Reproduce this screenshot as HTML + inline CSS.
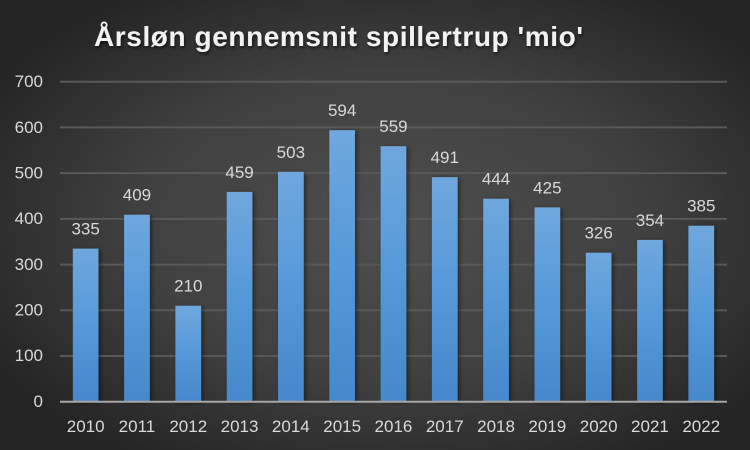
<!DOCTYPE html>
<html><head><meta charset="utf-8"><style>
html,body{margin:0;padding:0;background:#2a2a2a;}
svg{display:block;}
</style></head><body>
<svg width="750" height="450" viewBox="0 0 750 450" xmlns="http://www.w3.org/2000/svg">
<defs>
<radialGradient id="bg" cx="52%" cy="50%" r="62%">
<stop offset="0" stop-color="#4e4e4e"/>
<stop offset="0.55" stop-color="#404040"/>
<stop offset="1" stop-color="#242424"/>
</radialGradient>
<linearGradient id="bar" x1="0" y1="0" x2="0" y2="1">
<stop offset="0" stop-color="#6fa7dd"/>
<stop offset="0.5" stop-color="#5599da"/>
<stop offset="1" stop-color="#4588cb"/>
</linearGradient>
<filter id="sh" x="-30%" y="-10%" width="160%" height="120%">
<feGaussianBlur in="SourceAlpha" stdDeviation="2.5"/>
<feOffset dx="2" dy="1" result="b"/>
<feComponentTransfer><feFuncA type="linear" slope="0.45"/></feComponentTransfer>
<feMerge><feMergeNode/><feMergeNode in="SourceGraphic"/></feMerge>
</filter>
<filter id="tsh" x="-5%" y="-20%" width="110%" height="150%">
<feGaussianBlur in="SourceAlpha" stdDeviation="1.5"/>
<feOffset dx="1" dy="2"/>
<feComponentTransfer><feFuncA type="linear" slope="0.6"/></feComponentTransfer>
<feMerge><feMergeNode/><feMergeNode in="SourceGraphic"/></feMerge>
</filter>
</defs>
<rect width="750" height="450" fill="url(#bg)"/>
<text x="338.5" y="46" text-anchor="middle" textLength="489" lengthAdjust="spacing" font-family="Liberation Sans, sans-serif" font-weight="bold" font-size="28" fill="#f2f2f2" filter="url(#tsh)">Årsløn gennemsnit spillertrup 'mio'</text>
<g stroke="#585858" stroke-width="2">
<line x1="60" x2="727" y1="356" y2="356"/>
<line x1="60" x2="727" y1="310.3" y2="310.3"/>
<line x1="60" x2="727" y1="264.6" y2="264.6"/>
<line x1="60" x2="727" y1="218.9" y2="218.9"/>
<line x1="60" x2="727" y1="173.1" y2="173.1"/>
<line x1="60" x2="727" y1="127.4" y2="127.4"/>
<line x1="60" x2="727" y1="81.7" y2="81.7"/>
</g>
<g font-family="Liberation Sans, sans-serif" font-size="17" fill="#d9d9d9" text-anchor="end">
<text x="43" y="407">0</text>
<text x="43" y="361">100</text>
<text x="43" y="315.5">200</text>
<text x="43" y="270">300</text>
<text x="43" y="224">400</text>
<text x="43" y="178.5">500</text>
<text x="43" y="133">600</text>
<text x="43" y="87">700</text>
</g>
<g fill="url(#bar)" filter="url(#sh)">
<rect x="72.8" y="248.6" width="25.7" height="153.1"/>
<rect x="124.1" y="214.7" width="25.7" height="187"/>
<rect x="175.4" y="305.7" width="25.7" height="96"/>
<rect x="226.7" y="191.9" width="25.7" height="209.8"/>
<rect x="278" y="171.8" width="25.7" height="229.9"/>
<rect x="329.3" y="130.2" width="25.7" height="271.5"/>
<rect x="380.6" y="146.2" width="25.7" height="255.5"/>
<rect x="431.9" y="177.2" width="25.7" height="224.5"/>
<rect x="483.2" y="198.7" width="25.7" height="203"/>
<rect x="534.5" y="207.4" width="25.7" height="194.3"/>
<rect x="585.8" y="252.7" width="25.7" height="149"/>
<rect x="637.1" y="239.9" width="25.7" height="161.8"/>
<rect x="688.4" y="225.7" width="25.7" height="176"/>
</g>
<line x1="60" x2="727" y1="401.7" y2="401.7" stroke="#a6a6a6" stroke-width="2"/>
<g font-family="Liberation Sans, sans-serif" font-size="17" fill="#d9d9d9" text-anchor="middle">
<text x="85.65" y="234.6">335</text>
<text x="136.95" y="200.7">409</text>
<text x="188.25" y="291.7">210</text>
<text x="239.55" y="177.9">459</text>
<text x="290.85" y="157.8">503</text>
<text x="342.15" y="116.2">594</text>
<text x="393.45" y="132.2">559</text>
<text x="444.75" y="163.2">491</text>
<text x="496.05" y="184.7">444</text>
<text x="547.35" y="193.4">425</text>
<text x="598.65" y="238.7">326</text>
<text x="649.95" y="225.9">354</text>
<text x="701.25" y="211.7">385</text>
</g>
<g font-family="Liberation Sans, sans-serif" font-size="17" fill="#d9d9d9" text-anchor="middle">
<text x="85.65" y="432">2010</text>
<text x="136.95" y="432">2011</text>
<text x="188.25" y="432">2012</text>
<text x="239.55" y="432">2013</text>
<text x="290.85" y="432">2014</text>
<text x="342.15" y="432">2015</text>
<text x="393.45" y="432">2016</text>
<text x="444.75" y="432">2017</text>
<text x="496.05" y="432">2018</text>
<text x="547.35" y="432">2019</text>
<text x="598.65" y="432">2020</text>
<text x="649.95" y="432">2021</text>
<text x="701.25" y="432">2022</text>
</g>
</svg>
</body></html>
